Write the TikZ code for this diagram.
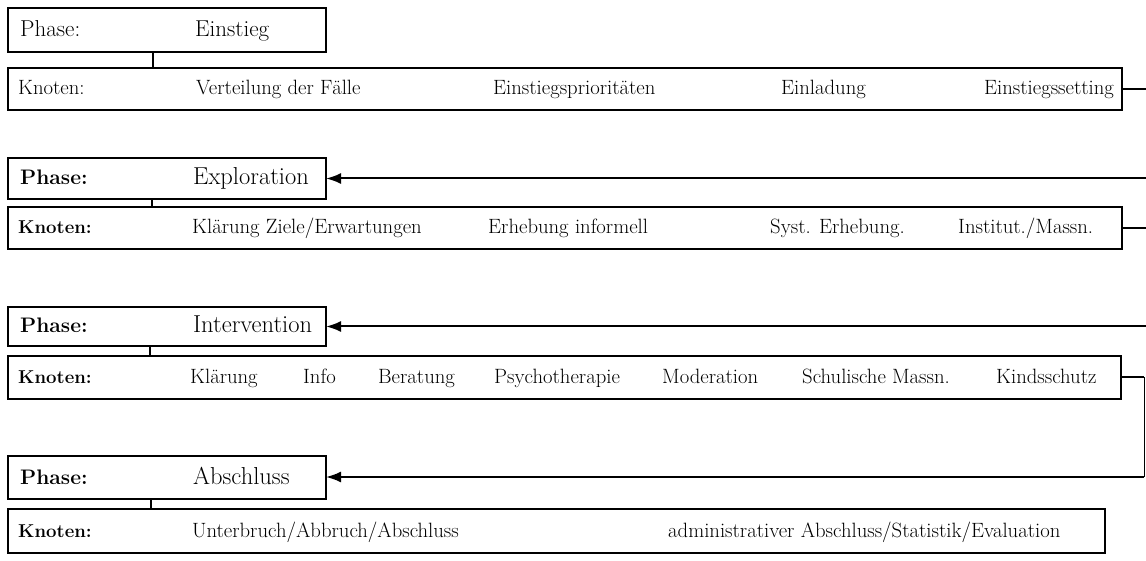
\documentclass[tikz,border=0pt]{standalone}
\usepackage{tikz}
\usetikzlibrary{arrows.meta, positioning}

\begin{document}
\begin{tikzpicture}[x=1pt, y=-1pt, >={Latex[length=15pt, width=11pt]},
  box/.style={draw, line width=2pt, inner sep=0pt, outer sep=0pt},
  phtxt/.style={anchor=base west, inner sep=0pt, font=\fontsize{24.5}{28}\selectfont},
  kntxt/.style={anchor=base west, inner sep=0pt, font=\fontsize{20.7}{24}\selectfont},
  boldlbl/.style={font=\fontsize{#1}{24}\selectfont\bfseries},
  conn/.style={line width=2pt},
  thinconn/.style={line width=0.8pt}]
  \useasboundingbox (0,0) rectangle (1146,561);
  \clip (0,0) rectangle (1146,561);
  % Phase 1: Einstieg
  \node[box, minimum width=318pt, minimum height=44pt] (ph1) at (167,30) {};
  \node[phtxt, font=\fontsize{23}{27}\selectfont] (ph1lbl) at (20,37) {Phase:};
  \node[phtxt, font=\fontsize{23}{27}\selectfont] (ph1name) at (195,37) {Einstieg};
  \node[box, minimum width=1114pt, minimum height=42pt] (kn1) at (565,89) {};
  \node[kntxt] (kn1lbl) at (18,95) {Knoten:};
  \node[kntxt] (kn1a) at (196,95) {Verteilung der Fälle};
  \node[kntxt] (kn1b) at (493,95) {Einstiegsprioritäten};
  \node[kntxt] (kn1c) at (781,95) {Einladung};
  \node[kntxt] (kn1d) at (984,95) {Einstiegssetting};
  % Phase 2: Exploration
  \node[box, minimum width=318pt, minimum height=41pt] (ph2) at (167,178.5) {};
  \node[phtxt, boldlbl=21] (ph2lbl) at (20,185) {Phase:};
  \node[phtxt] (ph2name) at (193,185) {Exploration};
  \node[box, minimum width=1114pt, minimum height=42pt] (kn2) at (565,228) {};
  \node[kntxt, boldlbl=18.6] (kn2lbl) at (18,234) {Knoten:};
  \node[kntxt] (kn2a) at (192,234) {Klärung Ziele/Erwartungen};
  \node[kntxt] (kn2b) at (488,234) {Erhebung informell};
  \node[kntxt] (kn2c) at (770,234) {Syst. Erhebung.};
  \node[kntxt] (kn2d) at (958,234) {Institut./Massn.};
  % Phase 3: Intervention
  \node[box, minimum width=318pt, minimum height=39pt] (ph3) at (167,326.5) {};
  \node[phtxt, boldlbl=21] (ph3lbl) at (20,333) {Phase:};
  \node[phtxt] (ph3name) at (193,333) {Intervention};
  \node[box, minimum width=1113pt, minimum height=43pt] (kn3) at (564.5,377) {};
  \node[kntxt, boldlbl=18.6] (kn3lbl) at (18,383) {Knoten:};
  \node[kntxt] (kn3a) at (190,383) {Klärung};
  \node[kntxt] (kn3b) at (303,383) {Info};
  \node[kntxt] (kn3c) at (378,383) {Beratung};
  \node[kntxt] (kn3d) at (494,383) {Psychotherapie};
  \node[kntxt] (kn3e) at (662,383) {Moderation};
  \node[kntxt] (kn3f) at (802,383) {Schulische Massn.};
  \node[kntxt] (kn3g) at (996,383) {Kindsschutz};
  % Phase 4: Abschluss
  \node[box, minimum width=318pt, minimum height=43pt] (ph4) at (167,477) {};
  \node[phtxt, boldlbl=21] (ph4lbl) at (20,484) {Phase:};
  \node[phtxt] (ph4name) at (193,484) {Abschluss};
  \node[box, minimum width=1097pt, minimum height=44pt] (kn4) at (556.5,530.5) {};
  \node[kntxt, boldlbl=18.6] (kn4lbl) at (18,537) {Knoten:};
  \node[kntxt] (kn4a) at (192,537) {Unterbruch/Abbruch/Abschluss};
  \node[kntxt] (kn4b) at (668,537) {administrativer Abschluss/Statistik/Evaluation};
  % Phase -> Knoten
  \draw[conn] ([xshift=145pt]ph1.south west) coordinate (v1) -- (v1 |- kn1.north);
  \draw[conn] ([xshift=144pt]ph2.south west) coordinate (v2) -- (v2 |- kn2.north);
  \draw[conn] ([xshift=142pt]ph3.south west) coordinate (v3) -- (v3 |- kn3.north);
  \draw[conn] ([xshift=143pt]ph4.south west) coordinate (v4) -- (v4 |- kn4.north);
  % Knoten -> next phase (routed along the right edge)
  \coordinate (turn1) at (1170,89);
  \coordinate (turn2) at (1170,228);
  \coordinate (turn3) at (1144,377);
  \draw[conn] (kn1.east) -- (turn1);
  \draw[conn, ->] (turn1) |- (ph2.east);
  \draw[conn] (kn2.east) -- (turn2);
  \draw[conn, ->] (turn2) |- (ph3.east);
  \draw[conn] (kn3.east) -- (turn3);
  \draw[thinconn] (turn3) -- (turn3 |- ph4.east);
  \draw[conn, ->] (turn3 |- ph4.east) -- (ph4.east);
\end{tikzpicture}
\end{document}
